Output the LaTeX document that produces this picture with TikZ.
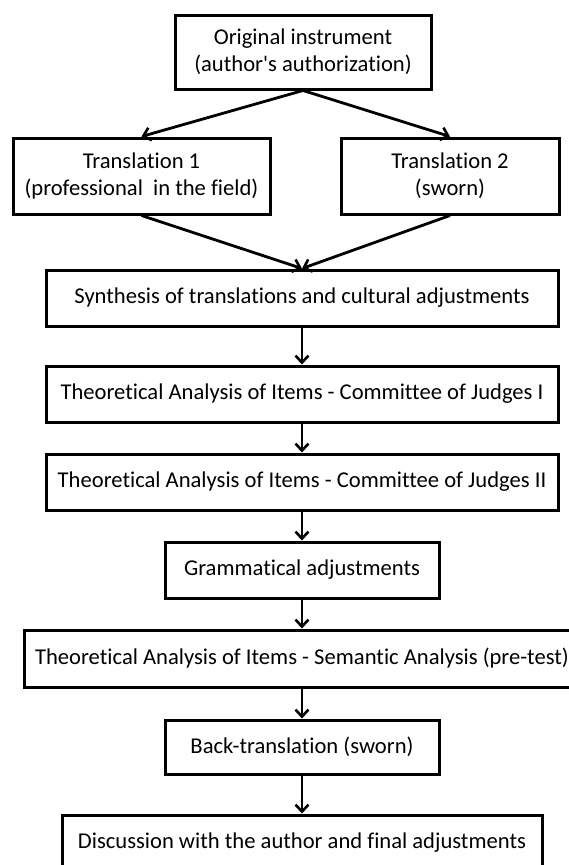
\documentclass[tikz,border=0pt]{standalone}
\usepackage{fontspec}
\setmainfont[Ligatures={NoCommon}]{Carlito}
\usetikzlibrary{arrows.meta}

\tikzset{
    stage/.style={draw, line width=3pt, align=center, inner sep=0pt,
        font=\fontsize{22.6}{27}\selectfont},
    flow/.style={line width=2.8pt, -{Straight Barb[length=7pt, width=13pt, line width=2.6pt]}}
}

\begin{document}
\begin{tikzpicture}[x=1pt, y=-1pt]
        \useasboundingbox (0, 0) rectangle (569, 865);
        \clip (0, 0) rectangle (569, 865);

        % Boxes
        \node[stage, minimum width=256pt, minimum height=74pt] (orig) at (303, 52)
            {Original instrument\\(author\textquotesingle s authorization)};
        \node[stage, minimum width=257pt, minimum height=76pt] (trans1) at (141.5, 176)
            {Translation 1\\(professional\ \ in the field)};
        \node[stage, minimum width=218pt, minimum height=76pt] (trans2) at (450, 176)
            {Translation 2\\(sworn)};
        \node[stage, minimum width=512pt, minimum height=56pt] (synth) at (302, 298)
            {Synthesis of translations and cultural adjustments};
        \node[stage, minimum width=512pt, minimum height=56pt] (judges1) at (302, 394)
            {Theoretical Analysis of Items - Committee of Judges I};
        \node[stage, minimum width=512pt, minimum height=56pt] (judges2) at (302, 482)
            {Theoretical Analysis of Items - Committee of Judges II};
        \node[stage, minimum width=274pt, minimum height=56pt] (gramm) at (302, 570)
            {Grammatical adjustments};
        \node[stage, minimum width=556pt, minimum height=57pt] (semantic) at (302, 658.5)
            {Theoretical Analysis of Items - Semantic Analysis (pre-test)};
        \node[stage, minimum width=274pt, minimum height=54pt] (back) at (302, 747)
            {Back-translation (sworn)};
        \node[stage, minimum width=480pt, minimum height=56pt] (discuss) at (302, 843)
            {Discussion with the author and final adjustments};

        % Arrows
        \draw[flow] (orig.south) -- (trans1.north);
        \draw[flow] (orig.south) -- (trans2.north);
        \draw[flow] (trans1.south) -- (synth.north);
        \draw[flow] (trans2.south) -- (synth.north);
        \draw[flow] (synth) -- (judges1);
        \draw[flow] (judges1) -- (judges2);
        \draw[flow] (judges2) -- (gramm);
        \draw[flow] (gramm) -- (semantic);
        \draw[flow] (semantic) -- (back);
        \draw[flow] (back) -- (discuss);

    \end{tikzpicture}
\end{document}
